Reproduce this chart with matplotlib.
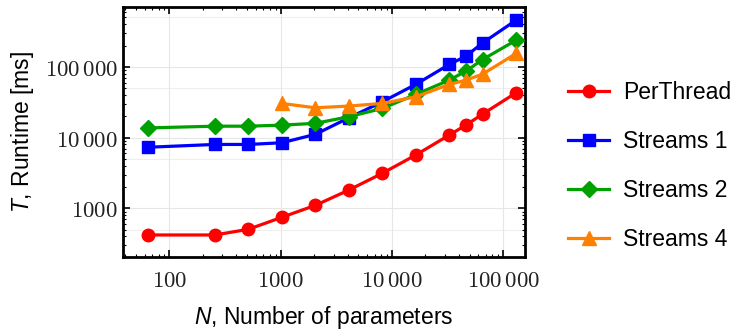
import numpy as np
import matplotlib
matplotlib.use("Agg")
import matplotlib.pyplot as plt
from matplotlib.ticker import LogLocator, FixedLocator, NullFormatter

plt.rcParams['font.family'] = ['Liberation Sans', 'DejaVu Sans']
plt.rcParams['mathtext.fontset'] = 'custom'
plt.rcParams['mathtext.rm'] = 'cmr10'
plt.rcParams['mathtext.it'] = 'Liberation Sans:italic'
plt.rcParams['axes.formatter.use_mathtext'] = False

# Data
n_params = [64, 256, 512, 1024, 2048, 4096, 8192, 16384, 32768, 46340, 65536, 131072]
per_thread = [420, 420, 505, 746, 1100, 1810, 3120, 5660, 10840, 15000, 21500, 43000]
streams_1 = [7300, 8000, 8000, 8450, 11100, 19000, 32000, 56400, 108000, 141600, 218000, 457000]
streams_2 = [13700, 14500, 14500, 15000, 15900, 19700, 25800, 40700, 64900, 86900, 127000, 238000]
n_params_s4 = [1024, 2048, 4096, 8192, 16384, 32768, 46340, 65536, 131072]
streams_4 = [30400, 26400, 27900, 30400, 37700, 56400, 64900, 78900, 154600]

x_ticks = [100, 1000, 10000, 100000]
x_ticklabels = [r'$100$', r'$1000$', r'$10\,000$', r'$100\,000$']
y_ticks = [1000, 10000, 100000]
y_ticklabels = [r'$1000$', r'$10\,000$', r'$100\,000$']

FS = 16.5

fig = plt.figure(figsize=(7.33, 3.31), dpi=100)
ax = fig.add_axes([0.168, 0.2236, 0.548, 0.7554])

lw = 2.3
ax.plot(n_params, per_thread, color='#ff0000', marker='o', ms=9, lw=lw, label='PerThread', zorder=3)
ax.plot(n_params, streams_1, color='#0000ff', marker='s', ms=9, lw=lw, label='Streams 1', zorder=3)
ax.plot(n_params, streams_2, color='#00a000', marker='D', ms=8, lw=lw, label='Streams 2', zorder=3)
ax.plot(n_params_s4, streams_4, color='#ff8000', marker='^', ms=10, lw=lw, label='Streams 4', zorder=3)

ax.set_xscale('log')
ax.set_yscale('log')
ax.set_xlim(10**1.584, 10**5.196)
ax.set_ylim(10**2.312, 10**5.847)

ax.xaxis.set_major_locator(FixedLocator(x_ticks))
ax.set_xticklabels(x_ticklabels)
ax.yaxis.set_major_locator(FixedLocator(y_ticks))
ax.set_yticklabels(y_ticklabels)
ax.xaxis.set_minor_locator(LogLocator(base=10, subs=np.arange(2, 10)))
ax.yaxis.set_minor_locator(LogLocator(base=10, subs=np.arange(2, 10)))
ax.xaxis.set_minor_formatter(NullFormatter())
ax.yaxis.set_minor_formatter(NullFormatter())

ax.tick_params(which='both', direction='in', top=True, right=True, labelsize=FS, colors='black')
ax.tick_params(which='major', length=5, width=1.2)
ax.tick_params(axis='x', which='major', pad=9)
ax.tick_params(axis='y', which='major', pad=4)
ax.tick_params(which='minor', length=2.5, width=0.8)
for lab in ax.get_xticklabels() + ax.get_yticklabels():
    lab.set_color('#222222')

ax.grid(which='major', color='#e6e6e6', lw=0.8, zorder=0)
for k in range(2, 6):
    ax.axhline(5 * 10**k, color='#eeeeee', lw=0.8, zorder=0)

for s in ax.spines.values():
    s.set_linewidth(2.0)

ax.set_xlabel(r'$N$, Number of parameters', fontsize=FS, labelpad=8)
ax.set_ylabel(r'$T$, Runtime [ms]', fontsize=FS, labelpad=6)

fig.legend(*ax.get_legend_handles_labels(), loc='upper left',
           bbox_to_anchor=(568 / 733, 1 - 81 / 331), bbox_transform=fig.transFigure,
           frameon=False, fontsize=FS, borderpad=0, borderaxespad=0,
           handlelength=1.8, labelspacing=1.14, handletextpad=0.6)

fig.savefig('out.png', dpi=100)
